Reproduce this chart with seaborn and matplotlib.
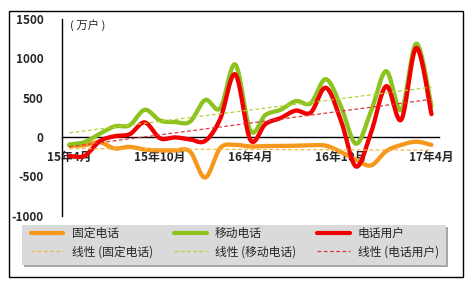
import numpy as np
import pandas as pd
import matplotlib
matplotlib.use("Agg")
import matplotlib.pyplot as plt
import seaborn as sns
from matplotlib.patches import Rectangle
from matplotlib.lines import Line2D

# ---- data (万户, monthly net additions, 15年4月 .. 17年4月) ----
months = ["15年4月", "15年5月", "15年6月", "15年7月", "15年8月", "15年9月",
          "15年10月", "15年11月", "15年12月", "16年1月", "16年2月", "16年3月",
          "16年4月", "16年5月", "16年6月", "16年7月", "16年8月", "16年9月",
          "16年10月", "16年11月", "16年12月", "17年1月", "17年2月", "17年3月",
          "17年4月"]
fixed = [-110, -105, -65, -145, -125, -160, -170, -170, -185, -515, -140, -100,
         -120, -115, -115, -110, -105, -110, -190, -290, -360, -180, -100, -60, -100]
mobile = [-95, -65, 40, 135, 150, 345, 210, 190, 195, 470, 365, 920,
          80, 280, 345, 455, 430, 734, 390, -85, 330, 835, 343, 1185, 390]
total = [-240, -240, -55, 10, 35, 185, -15, -5, -30, -50, 230, 795,
         -38, 165, 240, 335, 310, 625, 210, -375, 60, 645, 220, 1130, 290]
tick_labels = ["15年4月", "15年10月", "16年4月", "16年10月", "17年4月"]
series_names = ["固定电话", "移动电话", "电话用户"]
y_ticks = [-1000, -500, 0, 500, 1000, 1500]

colors = ["#F7981D", "#8CC31F", "#F00000"]
trend_colors = ["#F5B642", "#B5D236", "#E0353A"]

sns.set_style("white")
plt.rcParams["font.family"] = ["Noto Sans CJK SC", "DejaVu Sans"]


def smooth(y, n=24):
    """Catmull-Rom curve through the data points (Excel-like smoothed line)."""
    y = np.asarray(y, dtype=float)
    x = np.arange(len(y), dtype=float)
    px = np.concatenate([[x[0]], x, [x[-1]]])
    py = np.concatenate([[y[0]], y, [y[-1]]])
    xs, ys = [], []
    t = np.linspace(0, 1, n, endpoint=False)
    for i in range(len(y) - 1):
        for P, out in ((px, xs), (py, ys)):
            p0, p1, p2, p3 = P[i], P[i + 1], P[i + 2], P[i + 3]
            out.extend(0.5 * (2 * p1 + (-p0 + p2) * t
                              + (2 * p0 - 5 * p1 + 4 * p2 - p3) * t ** 2
                              + (-p0 + 3 * p1 - 3 * p2 + p3) * t ** 3))
    xs.append(x[-1]); ys.append(y[-1])
    return np.array(xs), np.array(ys)


W, H = 473, 287
fig = plt.figure(figsize=(W / 100, H / 100), dpi=100)
ax = fig.add_axes([61.8 / W, 1 - 215.8 / H, (439 - 61.8) / W, (215.8 - 18.8) / H])

idx = np.arange(len(months))
df = pd.DataFrame({"idx": idx, "固定电话": fixed, "移动电话": mobile, "电话用户": total})

for k, (name, c) in enumerate(zip(series_names, colors)):
    sx, sy = smooth(df[name].values)
    sns.lineplot(x=sx, y=sy, ax=ax, color=c, lw=3.1, sort=False,
                 estimator=None, zorder=3 + k, solid_capstyle="round")
for k, (name, c) in enumerate(zip(series_names, trend_colors)):
    sns.regplot(x="idx", y=name, data=df, ax=ax, scatter=False, ci=None,
                truncate=True,
                line_kws=dict(color=c, lw=0.9, ls=(0, (3, 2)), zorder=7))

ax.set_xlim(-0.5, 24.5)
ax.set_ylim(-1000, 1500)
ax.set_xlabel("")
ax.set_ylabel("")
for s in ["top", "right"]:
    ax.spines[s].set_visible(False)
ax.spines["bottom"].set_position(("data", 0))
for s in ["left", "bottom"]:
    ax.spines[s].set_color("black")
    ax.spines[s].set_linewidth(1.0)

ax.set_xticks([5.5, 11.5, 17.5, 23.5])
ax.set_xticklabels([])
ax.set_xticks([0, 6, 12, 18, 24], minor=True)
ax.set_xticklabels(tick_labels, minor=True, fontsize=8.5, fontweight="bold")
ax.tick_params(axis="x", which="major", direction="in", length=4, width=1, color="black")
ax.tick_params(axis="x", which="minor", length=0, pad=10)
ax.set_yticks(y_ticks)
ax.set_yticklabels([str(v) for v in y_ticks], fontsize=8.5, fontweight="bold")
ax.tick_params(axis="y", direction="in", length=4, width=1, color="black", pad=13)
ax.grid(False)
ax.patch.set_alpha(0)

fig.text(70 / W, 1 - 25 / H, "( 万户 )", fontsize=8.2, ha="left", va="center")

# outer border
fig.patches.append(Rectangle((9 / W, 1 - 277 / H), 454 / W, 266 / H,
                             transform=fig.transFigure, fill=False,
                             edgecolor="black", lw=1.0, zorder=0))
# legend box with shadow
fig.patches.append(Rectangle((24 / W, 1 - 267 / H), 424 / W, 40 / H,
                             transform=fig.transFigure, facecolor="#a8a8a8",
                             edgecolor="none", zorder=0))
fig.patches.append(Rectangle((22 / W, 1 - 265 / H), 424 / W, 40 / H,
                             transform=fig.transFigure, facecolor="#dadada",
                             edgecolor="none", zorder=0))

leg_handles, leg_labels = [], []
for name, c, tc in zip(series_names, colors, trend_colors):
    leg_handles.append(Line2D([], [], color=c, lw=3.0))
    leg_labels.append(name)
    leg_handles.append(Line2D([], [], color=tc, lw=0.9, ls=(0, (3, 2))))
    leg_labels.append(f"线性 ({name})")
fig.legend(leg_handles, leg_labels, ncol=3, loc="upper left",
           bbox_to_anchor=(31 / W, 1 - 227 / H), frameon=False, fontsize=8.5,
           handlelength=2.75, handletextpad=0.7, columnspacing=1.8,
           labelspacing=0.45, borderpad=0, borderaxespad=0)

fig.savefig("out.png", dpi=100)
